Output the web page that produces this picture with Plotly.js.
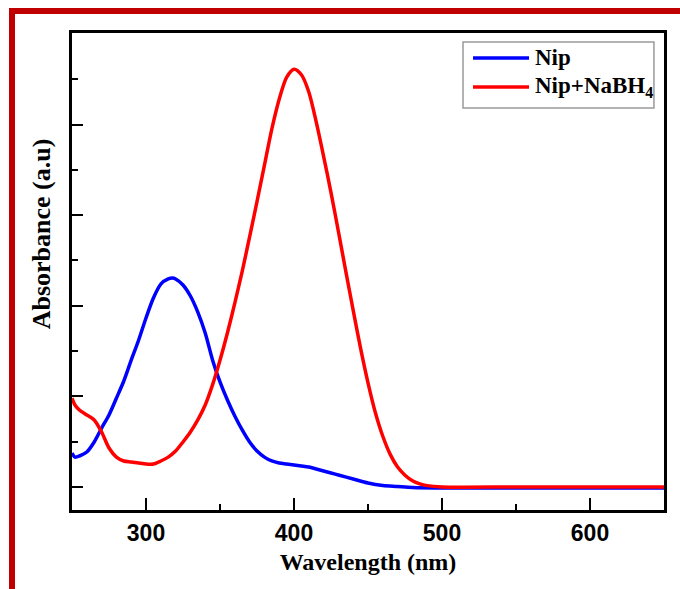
<!DOCTYPE html>
<html>
<head>
<meta charset="utf-8">
<script src="https://cdn.plot.ly/plotly-3.0.1.min.js"></script>
<style>
  html, body { margin: 0; padding: 0; background: #ffffff; overflow: hidden; }
  #chart { position: absolute; left: 0; top: 0; width: 680px; height: 589px; }
  #frame { position: absolute; left: 9px; top: 8px; width: 700px; height: 600px;
           border-top: 6px solid #C00000; border-left: 6px solid #C00000; pointer-events: none; }
</style>
</head>
<body>
<div id="chart"></div>
<div id="frame"></div>
<script>
// Wavelength (nm) and absorbance (a.u.)
const nipWavelength = [250, 252, 255, 260, 265, 270, 275, 280, 285, 290, 295, 300, 305, 310, 315, 318, 320, 325, 330, 335, 340, 345, 350, 355, 360, 365, 370, 375, 380, 385, 390, 395, 400, 405, 410, 415, 420, 425, 430, 440, 450, 460, 470, 480, 500, 550, 600, 650];
const nipAbsorbance = [0.375, 0.33, 0.342, 0.386, 0.497, 0.65, 0.795, 0.98, 1.17, 1.40, 1.62, 1.865, 2.086, 2.24, 2.296, 2.307, 2.296, 2.23, 2.108, 1.93, 1.70, 1.40, 1.159, 0.96, 0.784, 0.63, 0.497, 0.397, 0.33, 0.287, 0.265, 0.254, 0.243, 0.232, 0.22, 0.199, 0.177, 0.155, 0.132, 0.088, 0.044, 0.017, 0.006, -0.005, -0.01, -0.01, -0.01, -0.01];

const reducedWavelength = [250, 252, 255, 260, 265, 270, 275, 280, 285, 290, 295, 300, 305, 310, 315, 320, 325, 330, 335, 340, 345, 350, 355, 360, 365, 370, 375, 380, 385, 390, 395, 400, 405, 410, 415, 420, 425, 430, 435, 440, 445, 450, 455, 460, 465, 470, 475, 480, 485, 490, 500, 550, 600, 650];
const reducedAbsorbance = [0.98, 0.905, 0.85, 0.795, 0.74, 0.607, 0.43, 0.33, 0.287, 0.276, 0.265, 0.254, 0.254, 0.287, 0.33, 0.397, 0.497, 0.607, 0.74, 0.905, 1.13, 1.40, 1.70, 2.03, 2.38, 2.76, 3.15, 3.55, 3.95, 4.28, 4.52, 4.61, 4.55, 4.36, 4.03, 3.65, 3.25, 2.82, 2.38, 1.95, 1.53, 1.15, 0.82, 0.56, 0.36, 0.22, 0.13, 0.07, 0.035, 0.015, 0.0, 0.0, 0.0, 0.0];

const seriesNames = ['Nip', 'Nip+NaBH<sub>4</sub>'];
const seriesColors = ['#0000FF', '#FF0000'];
const xTickValues = [300, 400, 500, 600];
const xTitle = 'Wavelength (nm)';
const yTitle = 'Absorbance (a.u)';

const serif = 'Liberation Serif, Times New Roman, serif';
const sans = 'Liberation Sans, Arial, sans-serif';

const traces = [
  { x: nipWavelength, y: nipAbsorbance, name: seriesNames[0], type: 'scatter', mode: 'lines',
    line: { color: seriesColors[0], width: 3.5, shape: 'spline', smoothing: 0.8 } },
  { x: reducedWavelength, y: reducedAbsorbance, name: seriesNames[1], type: 'scatter', mode: 'lines',
    line: { color: seriesColors[1], width: 3.5, shape: 'spline', smoothing: 0.8 } }
];

// legend box drawn in paper coordinates
const legendBox = { x0: 0.6605, x1: 0.983, y0: 0.843, y1: 0.981 };
const legendRows = [0.9476, 0.8868];
const legendLine = { x0: 0.6774, x1: 0.772 };
const legendTextX = 0.779;

const shapes = [
  { type: 'rect', xref: 'paper', yref: 'paper', x0: legendBox.x0, x1: legendBox.x1, y0: legendBox.y0, y1: legendBox.y1,
    line: { color: '#9a9a9a', width: 1.5 }, fillcolor: '#ffffff', layer: 'above' }
];
const annotations = [];
seriesNames.forEach((name, i) => {
  shapes.push({ type: 'line', xref: 'paper', yref: 'paper', x0: legendLine.x0, x1: legendLine.x1,
    y0: legendRows[i], y1: legendRows[i], line: { color: seriesColors[i], width: 3.5 }, layer: 'above' });
  annotations.push({ xref: 'paper', yref: 'paper', x: legendTextX, y: legendRows[i], xanchor: 'left', yanchor: 'middle',
    text: name, showarrow: false, font: { family: serif, size: 23, color: '#000', weight: 'bold' } });
});
annotations.push({ xref: 'paper', yref: 'paper', x: -0.0524, y: 0.580, xanchor: 'center', yanchor: 'middle',
  text: yTitle, textangle: -90, showarrow: false, font: { family: serif, size: 26, color: '#000', weight: 'bold' } });

const layout = {
  width: 680, height: 589,
  paper_bgcolor: '#ffffff', plot_bgcolor: '#ffffff',
  margin: { l: 72, r: 16, t: 33, b: 79 },
  showlegend: false,
  shapes: shapes,
  annotations: annotations,
  xaxis: {
    range: [250, 650], tickvals: xTickValues, ticktext: xTickValues.map(String),
    ticks: 'inside', ticklen: 12, tickwidth: 2, tickcolor: '#000',
    minor: { ticks: 'inside', tickvals: [350, 450, 550], ticklen: 6, tickwidth: 2, tickcolor: '#000' },
    showline: true, linewidth: 3, linecolor: '#000', mirror: true,
    showgrid: false, zeroline: false,
    tickfont: { family: sans, size: 23, color: '#000', weight: 'bold' },
    title: { text: xTitle, font: { family: serif, size: 24, color: '#000', weight: 'bold' }, standoff: 9 }
  },
  yaxis: {
    range: [-0.254, 5.011], tick0: 0, dtick: 1,
    ticks: 'inside', ticklen: 11, tickwidth: 2, tickcolor: '#000',
    minor: { ticks: 'inside', dtick: 0.5, ticklen: 6, tickwidth: 2, tickcolor: '#000' },
    showticklabels: false,
    showline: true, linewidth: 3, linecolor: '#000', mirror: true,
    showgrid: false, zeroline: false
  }
};

Plotly.newPlot('chart', traces, layout, { displayModeBar: false, staticPlot: true });
</script>
</body>
</html>
